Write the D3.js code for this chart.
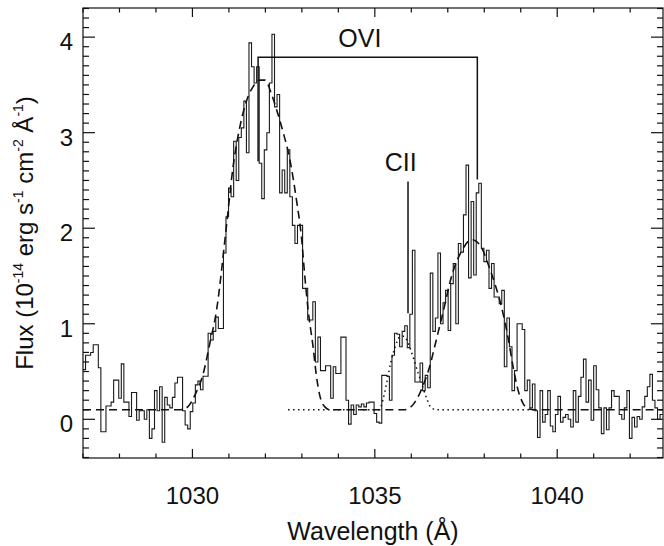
<!DOCTYPE html>
<html>
<head>
<meta charset="utf-8">
<script src="https://cdn.jsdelivr.net/npm/d3@7"></script>
<style>
  html, body { margin: 0; padding: 0; background: #fff; }
  svg text { font-family: "Liberation Sans", Arial, Helvetica, sans-serif; fill: #111; }
</style>
</head>
<body>
<svg id="chart" width="664" height="546"></svg>
<script>
// Observed spectrum: flux per bin on a regular wavelength grid (Å)
const binStart = 1027.0;
const binWidth = 0.07;
const flux = [
  0.52, 0.67, 0.67, 0.70, 0.78, 0.78, 0.54, -0.13, -0.13, 0.14,
  0.14, 0.18, 0.41, 0.41, 0.22, 0.58, 0.18, 0.18, 0.03, 0.28,
  0.28, -0.01, 0.09, 0.09, 0.00, 0.10, -0.20, -0.10, 0.30, 0.09,
  0.34, -0.24, 0.23, 0.15, 0.12, 0.23, 0.38, 0.44, 0.44, 0.09,
  -0.06, -0.10, 0.08, 0.17, 0.36, 0.40, 0.31, 0.45, 0.45, 0.90,
  0.83, 0.92, 1.07, 0.95, 0.95, 1.74, 2.12, 2.42, 2.33, 2.91,
  2.50, 2.95, 3.05, 3.33, 2.79, 3.94, 3.69, 3.52, 3.69, 2.68,
  2.31, 2.82, 3.00, 3.52, 4.03, 3.27, 3.40, 2.37, 2.61, 2.37,
  2.82, 2.33, 2.03, 1.84, 2.03, 2.03, 1.37, 1.37, 1.04, 1.04,
  1.23, 0.60, 0.86, 0.51, 0.51, 0.56, 0.56, 0.22, 0.55, 0.48,
  0.48, 0.86, 0.86, 0.20, -0.05, 0.15, 0.05, 0.15, 0.13, 0.16,
  0.13, 0.17, 0.18, 0.18, 0.06, -0.03, -0.04, 0.46, 0.46, 0.45,
  0.20, 0.67, 0.90, 0.89, 0.76, 0.92, 0.98, 0.75, 1.10, 1.77,
  0.39, 0.39, 0.59, 0.30, 0.46, 0.33, 1.53, 0.92, 1.06, 1.74,
  1.00, 1.22, 1.35, 0.93, 1.42, 1.63, 1.00, 1.84, 1.75, 2.14,
  2.66, 1.48, 2.28, 1.51, 2.37, 2.47, 1.79, 1.65, 1.77, 1.37,
  1.63, 1.28, 1.28, 1.21, 1.35, 0.55, 1.06, 0.76, 0.30, 0.51,
  1.00, 1.00, 0.94, 0.30, 0.41, 0.12, 0.37, 0.09, -0.19, 0.30,
  -0.03, 0.05, 0.30, -0.07, -0.13, 0.05, 0.24, -0.03, 0.02, 0.05,
  0.00, -0.08, 0.30, -0.03, 0.24, 0.44, 0.63, 0.18, 0.41, -0.01,
  0.56, 0.31, 0.12, -0.15, 0.12, -0.11, 0.12, 0.30, 0.24, 0.24,
  0.05, 0.00, 0.12, 0.30, -0.20, 0.02, -0.08, 0.03, 0.00, 0.13,
  0.24, 0.34, 0.47, 0.20, 0.12, 0.00, 0.05
];

// Two-component O VI fit plus continuum (dashed)
const fitWave = [1027.00, 1029.66, 1029.84, 1030.10, 1030.29, 1030.48, 1030.66, 1030.92,
  1031.12, 1031.30, 1031.48, 1031.66, 1031.85, 1031.99, 1032.17, 1032.34, 1032.49,
  1032.67, 1032.85, 1032.99, 1033.08, 1033.17, 1033.31, 1033.40, 1033.49, 1033.63,
  1033.77, 1035.82, 1035.96, 1036.10, 1036.23, 1036.37, 1036.51, 1036.64, 1036.78,
  1036.92, 1037.05, 1037.19, 1037.38, 1037.55, 1037.66, 1037.79, 1037.96, 1038.10,
  1038.29, 1038.47, 1038.65, 1038.79, 1038.93, 1039.06, 1039.20, 1039.38, 1042.90];
const fitFlux = [0.10, 0.10, 0.12, 0.28, 0.47, 0.80, 1.14, 1.98,
  2.66, 3.06, 3.33, 3.48, 3.55, 3.55, 3.40, 3.20, 3.00,
  2.72, 2.30, 1.90, 1.50, 1.15, 0.75, 0.45, 0.25, 0.13,
  0.10, 0.10, 0.12, 0.18, 0.27, 0.40, 0.56, 0.76, 0.98,
  1.20, 1.42, 1.60, 1.76, 1.86, 1.88, 1.86, 1.77, 1.63,
  1.42, 1.18, 0.86, 0.55, 0.30, 0.17, 0.11, 0.10, 0.10];

// C II component plus continuum (dotted)
const ciiWave = [1032.62, 1035.10, 1035.14, 1035.22, 1035.32, 1035.44, 1035.55, 1035.68,
  1035.80, 1035.91, 1036.05, 1036.19, 1036.28, 1036.42, 1036.55, 1036.69, 1039.44];
const ciiFlux = [0.10, 0.10, 0.11, 0.20, 0.37, 0.60, 0.75, 0.86,
  0.87, 0.80, 0.65, 0.48, 0.38, 0.22, 0.12, 0.10, 0.10];

// Line identifications
const oviWave = [1031.80, 1037.81];
const oviLegBottom = [2.70, 2.51];
const oviBarFlux = 3.79;
const oviLabel = { text: "OVI", wave: 1034.59, flux: 3.90 };
const ciiMark = { wave: 1035.91, top: 2.49, bottom: 1.11 };
const ciiLabel = { text: "CII", wave: 1035.71, flux: 2.60 };

const xMajor = [1030, 1035, 1040];
const yMajor = [0, 1, 2, 3, 4];

const W = 664, H = 546;
const m = { left: 83, top: 8, right: 1, bottom: 88 };
const pw = W - m.left - m.right, ph = H - m.top - m.bottom;

const svg = d3.select("#chart");
const x = d3.scaleLinear().domain([1027, 1042.9]).range([m.left, m.left + pw]);
const y = d3.scaleLinear().domain([-0.405, 4.305]).range([m.top + ph, m.top]);

svg.append("defs").append("clipPath").attr("id", "plotclip")
  .append("rect").attr("x", m.left).attr("y", m.top).attr("width", pw).attr("height", ph);

const plot = svg.append("g").attr("clip-path", "url(#plotclip)");

// histogram spectrum
const specPts = flux.map((f, i) => [binStart + i * binWidth, f]);
specPts.push([binStart + flux.length * binWidth, flux[flux.length - 1]]);
plot.append("path")
  .attr("d", d3.line().x(d => x(d[0])).y(d => y(d[1])).curve(d3.curveStepAfter)(specPts))
  .attr("fill", "none").attr("stroke", "#1a1a1a").attr("stroke-width", 1.1);

// fits
const smooth = d3.line().x(d => x(d[0])).y(d => y(d[1])).curve(d3.curveMonotoneX);
plot.append("path")
  .attr("d", smooth(fitWave.map((w, i) => [w, fitFlux[i]])))
  .attr("fill", "none").attr("stroke", "#111").attr("stroke-width", 1.6)
  .attr("stroke-dasharray", "8,5");
plot.append("path")
  .attr("d", smooth(ciiWave.map((w, i) => [w, ciiFlux[i]])))
  .attr("fill", "none").attr("stroke", "#111").attr("stroke-width", 1.5)
  .attr("stroke-dasharray", "1.5,3.5");

// line markers
svg.append("path")
  .attr("d", d3.line()([
    [x(oviWave[0]), y(oviLegBottom[0])], [x(oviWave[0]), y(oviBarFlux)],
    [x(oviWave[1]), y(oviBarFlux)], [x(oviWave[1]), y(oviLegBottom[1])]]))
  .attr("fill", "none").attr("stroke", "#111").attr("stroke-width", 1.5);
svg.append("line")
  .attr("x1", x(ciiMark.wave)).attr("x2", x(ciiMark.wave))
  .attr("y1", y(ciiMark.top)).attr("y2", y(ciiMark.bottom))
  .attr("stroke", "#111").attr("stroke-width", 1.5);
svg.append("text").attr("x", x(oviLabel.wave)).attr("y", y(oviLabel.flux))
  .attr("text-anchor", "middle").attr("font-size", 25).text(oviLabel.text);
svg.append("text").attr("x", x(ciiLabel.wave)).attr("y", y(ciiLabel.flux))
  .attr("text-anchor", "middle").attr("font-size", 25).text(ciiLabel.text);

// frame with inward ticks on all four sides
const frame = svg.append("g").attr("stroke", "#111").attr("stroke-width", 1.2);
frame.append("rect").attr("x", m.left).attr("y", m.top).attr("width", pw).attr("height", ph)
  .attr("fill", "none");

const xMinor = d3.range(1027, 1043, 1);
const yMinor = d3.range(-4, 44, 1).map(v => v / 10);
const xl = 9, yl = 12;
xMinor.forEach(v => {
  const len = xMajor.includes(v) ? xl : xl / 2;
  frame.append("line").attr("x1", x(v)).attr("x2", x(v)).attr("y1", m.top + ph).attr("y2", m.top + ph - len);
  frame.append("line").attr("x1", x(v)).attr("x2", x(v)).attr("y1", m.top).attr("y2", m.top + len);
});
yMinor.forEach(v => {
  const major = yMajor.some(t => Math.abs(t - v) < 1e-9);
  const len = major ? yl : yl / 2;
  frame.append("line").attr("x1", m.left).attr("x2", m.left + len).attr("y1", y(v)).attr("y2", y(v));
  frame.append("line").attr("x1", m.left + pw).attr("x2", m.left + pw - len).attr("y1", y(v)).attr("y2", y(v));
});

// tick labels
svg.append("g").selectAll("text").data(xMajor).join("text")
  .attr("x", d => x(d)).attr("y", m.top + ph + 46).attr("text-anchor", "middle")
  .attr("font-size", 24).text(d => d);
svg.append("g").selectAll("text").data(yMajor).join("text")
  .attr("x", m.left - 10).attr("y", d => y(d) + 13).attr("text-anchor", "end")
  .attr("font-size", 24).text(d => d);

// axis titles
svg.append("text").attr("x", m.left + pw / 2).attr("y", 540).attr("text-anchor", "middle")
  .attr("font-size", 25).text("Wavelength (Å)");

const yt = svg.append("text").attr("transform", `translate(33,${m.top + ph / 2}) rotate(-90)`)
  .attr("text-anchor", "middle").attr("font-size", 24);
const parts = [["Flux (10", 0], ["-14", 1], [" erg s", 0], ["-1", 1], [" cm", 0], ["-2", 1], [" Å", 0], ["-1", 1], [")", 0]];
let raised = false;
parts.forEach(([t, sup]) => {
  const ts = yt.append("tspan").text(t);
  if (sup) { ts.attr("font-size", 14).attr("dy", raised ? 0 : -10); raised = true; }
  else { ts.attr("font-size", 24).attr("dy", raised ? 10 : 0); raised = false; }
});
</script>
</body>
</html>
